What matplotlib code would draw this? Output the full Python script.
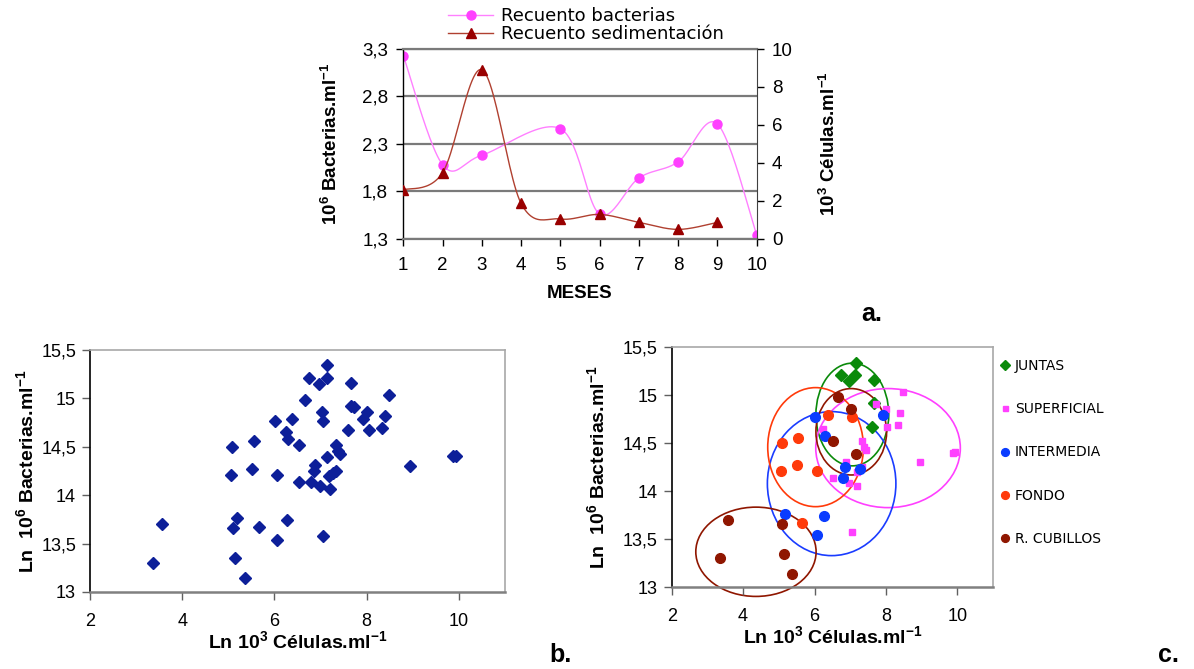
import numpy as np
import matplotlib
matplotlib.use("Agg")
import matplotlib.pyplot as plt
from matplotlib.patches import Ellipse
from matplotlib.ticker import FuncFormatter

plt.rcParams['font.family'] = ['Liberation Sans', 'DejaVu Sans']
plt.rcParams['mathtext.fontset'] = 'custom'
plt.rcParams['mathtext.rm'] = 'Liberation Sans'
plt.rcParams['mathtext.bf'] = 'Liberation Sans:bold'

# a. recuentos mensuales
meses = [1, 2, 3, 4, 5, 6, 7, 8, 9, 10]
bacterias = [3.23, 2.08, 2.18, np.nan, 2.46, 1.56, 1.94, 2.11, 2.51, 1.34]
sedimentacion = [2.57, 3.48, 8.91, 1.86, 1.04, 1.28, 0.86, 0.49, 0.86, np.nan]

# b./c. Ln bacterias vs Ln celulas por zona
juntas_x = [7.15, 6.74, 7.13, 6.97, 7.66, 7.66, 7.60]
juntas_y = [15.34, 15.21, 15.21, 15.15, 15.16, 14.92, 14.67]
superficial_x = [8.48, 8.01, 8.39, 8.04, 8.33, 6.24, 7.34, 7.38, 7.43, 6.88,
                 7.18, 6.53, 6.98, 7.20, 8.95, 9.87, 9.94, 7.05, 7.33, 7.73]
superficial_y = [15.03, 14.86, 14.82, 14.67, 14.69, 14.65, 14.52, 14.46, 14.43, 14.31,
                 14.20, 14.14, 14.09, 14.06, 14.30, 14.40, 14.41, 13.58, 14.25, 14.91]
intermedia_x = [6.01, 6.30, 7.91, 6.85, 7.27, 6.80, 5.18, 6.27, 6.06]
intermedia_y = [14.77, 14.58, 14.79, 14.25, 14.23, 14.14, 13.76, 13.74, 13.54]
fondo_x = [5.08, 5.55, 6.39, 7.05, 5.05, 5.52, 6.06, 5.66]
fondo_y = [14.50, 14.56, 14.79, 14.77, 14.21, 14.27, 14.21, 13.67]
cubillos_x = [6.67, 7.03, 6.53, 7.15, 3.57, 3.36, 5.10, 5.14, 5.37]
cubillos_y = [14.98, 14.86, 14.52, 14.39, 13.70, 13.30, 13.66, 13.35, 13.14]

zonas = ['JUNTAS', 'SUPERFICIAL', 'INTERMEDIA', 'FONDO', 'R. CUBILLOS']
zonas_x = [juntas_x, superficial_x, intermedia_x, fondo_x, cubillos_x]
zonas_y = [juntas_y, superficial_y, intermedia_y, fondo_y, cubillos_y]
zonas_color = ['#0a8a0a', '#ff40ff', '#0a3cff', '#ff3a0a', '#8f1600']
zonas_marker = ['D', 's', 'o', 'o', 'o']
zonas_size = [6, 4.5, 7, 7, 7]

# grupos marcados a mano: (centro x, centro y, ancho, alto, color)
grupos = [
    (7.06, 14.80, 2.04, 1.07, '#0a8a0a'),
    (8.06, 14.45, 4.05, 1.24, '#ff40ff'),
    (6.48, 14.08, 3.60, 1.50, '#1a3cff'),
    (6.03, 14.46, 2.68, 1.24, '#ff3a0a'),
    (7.03, 14.62, 1.98, 0.90, '#8f1600'),
    (4.36, 13.37, 3.37, 0.93, '#8f1600'),
]


def coma(v, pos):
    return ('%g' % v).replace('.', ',')


def suavizado(x, y, n=25):
    # curva tipo Excel: bezier con tangentes de Catmull-Rom
    x = np.asarray(x, float)
    y = np.asarray(y, float)
    ok = ~np.isnan(y)
    x, y = x[ok], y[ok]
    px = np.concatenate([[x[0]], x, [x[-1]]])
    py = np.concatenate([[y[0]], y, [y[-1]]])
    t = np.linspace(0, 1, n)
    xs, ys = [], []
    for i in range(len(x) - 1):
        p0 = np.array([px[i], py[i]])
        p1 = np.array([px[i + 1], py[i + 1]])
        p2 = np.array([px[i + 2], py[i + 2]])
        p3 = np.array([px[i + 3], py[i + 3]])
        c1 = p1 + (p2 - p0) / 6
        c2 = p2 - (p3 - p1) / 6
        b = ((1 - t) ** 3)[:, None] * p1 + (3 * (1 - t) ** 2 * t)[:, None] * c1 \
            + (3 * (1 - t) * t ** 2)[:, None] * c2 + (t ** 3)[:, None] * p2
        xs.extend(b[:, 0])
        ys.extend(b[:, 1])
    return xs, ys


fig = plt.figure(figsize=(11.94, 6.69), dpi=100)

# ---------- a. ----------
ax1 = fig.add_axes([403.3 / 1194, 1 - 238.7 / 669, 353.4 / 1194, 189.7 / 669])
ax2 = ax1.twinx()

ax1.set_xlim(1, 10)
ax1.set_ylim(1.3, 3.3)
ax1.set_yticks([1.3, 1.8, 2.3, 2.8, 3.3])
ax1.set_xticks(meses)
ax1.yaxis.set_major_formatter(FuncFormatter(coma))
ax1.grid(axis='y', color='#7a7a7a', lw=1.6)
ax1.set_axisbelow(True)
for s in ['top', 'bottom']:
    ax1.spines[s].set_color('#7a7a7a')
    ax1.spines[s].set_linewidth(1.6)
ax1.spines['left'].set_linewidth(1.0)
ax1.spines['right'].set_visible(False)
ax1.tick_params(labelsize=13.5, length=5, width=1, pad=6)
ax1.tick_params(axis='x', pad=8)

bx, by = suavizado(meses, bacterias)
ax1.plot(bx, by, color='#ff80ff', lw=1.0)
ax1.plot(meses, bacterias, 'o', color='#ff40ff', ms=6.5, ls='none')

ax2.set_ylim(0, 10)
ax2.set_yticks([0, 2, 4, 6, 8, 10])
for s in ['top', 'bottom', 'left']:
    ax2.spines[s].set_visible(False)
ax2.spines['right'].set_color('#404040')
ax2.tick_params(labelsize=13.5, length=5, width=1, pad=6)
sx, sy = suavizado(meses, sedimentacion)
ax2.plot(sx, sy, color='#b04030', lw=1.0)
ax2.plot(meses, sedimentacion, '^', color='#990000', ms=7.5, ls='none')

ax1.set_xlabel('MESES', fontsize=13.5, fontweight='bold', labelpad=8)
ax1.set_ylabel(r'$\mathbf{10^6}$ Bacterias.ml$\mathbf{^{-1}}$', fontsize=13.5,
               fontweight='bold', labelpad=15)
ax2.set_ylabel(r'$\mathbf{10^3}$ Células.ml$\mathbf{^{-1}}$', fontsize=13.5,
               fontweight='bold', labelpad=19)

h1 = plt.Line2D([], [], color='#ff80ff', lw=1.0, marker='o', ms=6.5,
                mfc='#ff40ff', mec='#ff40ff')
h2 = plt.Line2D([], [], color='#b04030', lw=1.0, marker='^', ms=7.5,
                mfc='#990000', mec='#990000')
fig.legend([h1, h2], ['Recuento bacterias', 'Recuento sedimentación'],
           loc='upper left', bbox_to_anchor=(448 / 1194, 1 - 7 / 669),
           frameon=False, prop={'family': 'DejaVu Sans', 'size': 13},
           handlelength=2.5, handletextpad=0.45,
           labelspacing=0.0, borderpad=0, borderaxespad=0)
fig.text(872 / 1194, 1 - 314 / 669, 'a.', fontsize=18, fontweight='bold',
         ha='center', va='center')


def marco(ax, ypad):
    ax.set_xlim(2, 11)
    ax.set_ylim(13, 15.5)
    ax.set_xticks([2, 4, 6, 8, 10])
    ax.set_yticks([13, 13.5, 14, 14.5, 15, 15.5])
    ax.yaxis.set_major_formatter(FuncFormatter(coma))
    ax.spines['left'].set_color('black')
    ax.spines['left'].set_linewidth(1.2)
    ax.spines['bottom'].set_color('#808080')
    ax.spines['bottom'].set_linewidth(1.8)
    for s in ['top', 'right']:
        ax.spines[s].set_color('#a8a8a8')
        ax.spines[s].set_linewidth(1.2)
    ax.tick_params(labelsize=13, length=6, width=1, color='#606060')
    ax.tick_params(axis='x', pad=9)
    ax.tick_params(axis='y', pad=4)
    ax.set_xlabel(r'Ln 10$\mathbf{^3}$ Células.ml$\mathbf{^{-1}}$', fontsize=14,
                  fontweight='bold', labelpad=0)
    ax.set_ylabel(r'Ln  10$\mathbf{^6}$ Bacterias.ml$\mathbf{^{-1}}$', fontsize=14,
                  fontweight='bold', labelpad=ypad)


# ---------- b. ----------
axb = fig.add_axes([90 / 1194, 1 - 592 / 669, 415 / 1194, 242 / 669])
marco(axb, 3)
axb.plot(np.concatenate(zonas_x), np.concatenate(zonas_y), 'D',
         color='#0d1f99', ms=6.3, ls='none')
fig.text(560 / 1194, 1 - 655 / 669, 'b.', fontsize=18, fontweight='bold',
         ha='center', va='center')

# ---------- c. ----------
axc = fig.add_axes([671.7 / 1194, 1 - 587.3 / 669, 321.3 / 1194, 240 / 669])
marco(axc, 11)
for nombre, xs, ys, col, mk, ms in zip(zonas, zonas_x, zonas_y, zonas_color,
                                      zonas_marker, zonas_size):
    axc.plot(xs, ys, mk, color=col, ms=ms, ls='none', label=nombre)
for cx, cy, w, h, col in grupos:
    axc.add_patch(Ellipse((cx, cy), w, h, fill=False, ec=col, lw=1.2,
                          clip_on=False))
leg = axc.legend(loc='upper left', bbox_to_anchor=(997.3 / 1194, 1 - 356 / 669),
                 bbox_transform=fig.transFigure, frameon=True, facecolor='white',
                 edgecolor='white', framealpha=1, fancybox=False,
                 prop={'family': 'DejaVu Sans', 'size': 10}, numpoints=1,
                 handlelength=0.7, handletextpad=0.37, labelspacing=2.11,
                 borderpad=0.2, borderaxespad=0, markerscale=0.8)
leg.set_zorder(5)
fig.text(1168 / 1194, 1 - 655 / 669, 'c.', fontsize=18, fontweight='bold',
         ha='center', va='center')

fig.savefig('out.png', dpi=100)
